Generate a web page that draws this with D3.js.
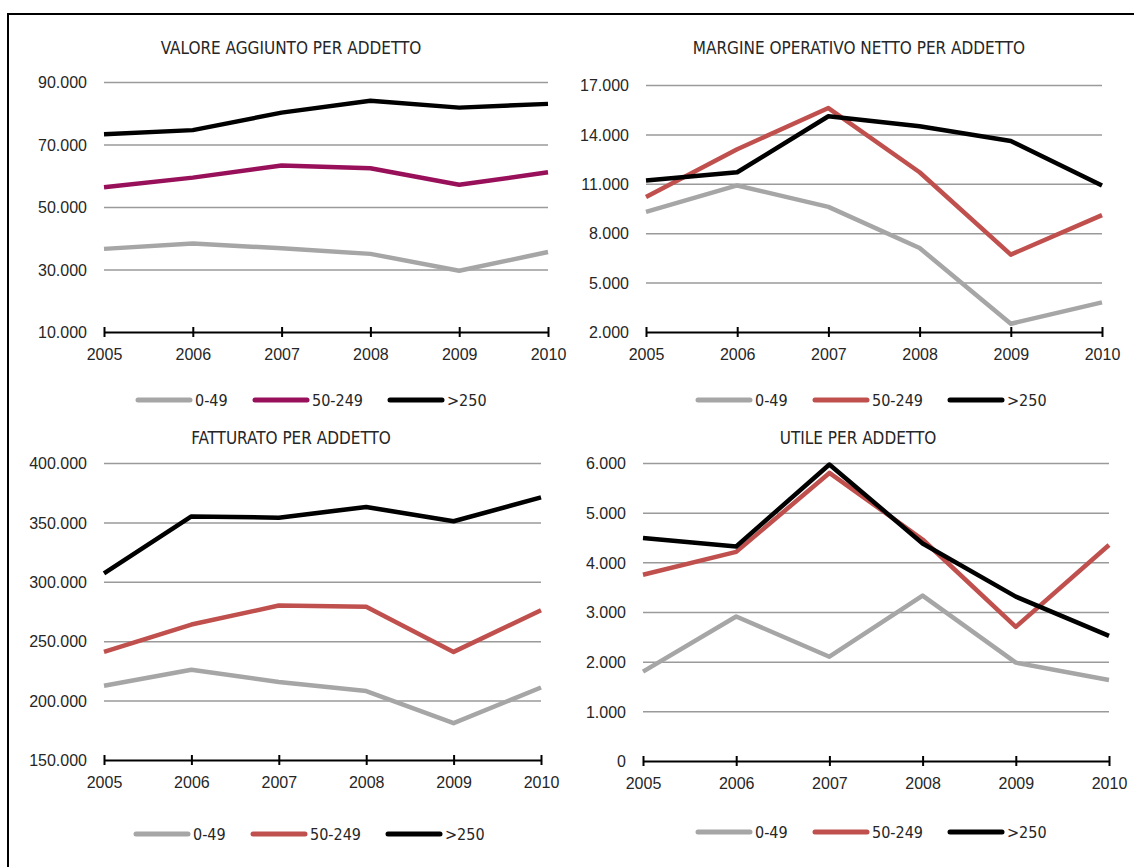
<!DOCTYPE html>
<meta charset="utf-8">
<style>

body {
  margin: 0;
  background: #fff;
}

svg {
  font-family: "Liberation Sans Narrow", "DejaVu Sans Condensed", sans-serif;
}

.title {
  font-size: 17px;
  fill: #262626;
}

.axis text {
  font-size: 16px;
  fill: #262626;
}

.grid line {
  stroke: #9a9a9a;
  stroke-width: 1.5;
}

.grid path {
  display: none;
}

.xaxis path,
.xaxis line {
  stroke: #000;
  stroke-width: 2;
}

.series {
  fill: none;
  stroke-width: 4.5;
  stroke-linejoin: round;
}

.legend line {
  stroke-width: 5;
  stroke-linecap: round;
}

.legend text {
  font-size: 16px;
  fill: #262626;
}

</style>
<body>
<svg width="1134" height="867"></svg>
</body>

<script src="https://d3js.org/d3.v7.min.js"></script>
<script>

var years = [2005, 2006, 2007, 2008, 2009, 2010];
var classes = ["0-49", "50-249", ">250"];

// valore aggiunto per addetto
var va_small = [36600, 38300, 36800, 35000, 29600, 35600];
var va_mid   = [56300, 59400, 63300, 62400, 57100, 61100];
var va_large = [73300, 74600, 80200, 84000, 81800, 83000];
var va_ticks = [10000, 30000, 50000, 70000, 90000];

// margine operativo netto per addetto
var mon_small = [9300, 10900, 9600, 7100, 2500, 3800];
var mon_mid   = [10200, 13100, 15600, 11700, 6700, 9100];
var mon_large = [11200, 11700, 15100, 14500, 13600, 10900];
var mon_ticks = [2000, 5000, 8000, 11000, 14000, 17000];

// fatturato per addetto
var fat_small = [212500, 226000, 215700, 208000, 181000, 211000];
var fat_mid   = [241000, 264000, 280000, 279000, 241000, 276000];
var fat_large = [307000, 355000, 354000, 363000, 351000, 371000];
var fat_ticks = [150000, 200000, 250000, 300000, 350000, 400000];

// utile per addetto
var ut_small = [1800, 2910, 2100, 3330, 1980, 1630];
var ut_mid   = [3750, 4210, 5800, 4460, 2700, 4350];
var ut_large = [4490, 4320, 5970, 4380, 3310, 2520];
var ut_ticks = [0, 1000, 2000, 3000, 4000, 5000, 6000];

var it = d3.formatLocale({decimal: ",", thousands: ".", grouping: [3], currency: ["€", ""]});
var fmt = it.format(",d");

var svg = d3.select("svg");

// cornice
svg.append("path")
    .attr("d", "M8,880V14H1140")
    .attr("fill", "none")
    .attr("stroke", "#000")
    .attr("stroke-width", 2);

var panels = [
  {title: "VALORE AGGIUNTO PER ADDETTO", series: [va_small, va_mid, va_large], ticks: va_ticks,
   colors: ["#a6a6a6", "#99105a", "#000"], x0: 104, x1: 548, y0: 332, y1: 82, cx: 291, ty: 54,
   ly: 400, lx: 138},
  {title: "MARGINE OPERATIVO NETTO PER ADDETTO", series: [mon_small, mon_mid, mon_large], ticks: mon_ticks,
   colors: ["#a6a6a6", "#c0504d", "#000"], x0: 646, x1: 1102, y0: 332, y1: 85, cx: 859, ty: 54,
   ly: 400, lx: 698},
  {title: "FATTURATO PER ADDETTO", series: [fat_small, fat_mid, fat_large], ticks: fat_ticks,
   colors: ["#a6a6a6", "#c0504d", "#000"], x0: 104, x1: 541, y0: 760, y1: 463, cx: 291, ty: 444,
   ly: 834, lx: 136},
  {title: "UTILE PER ADDETTO", series: [ut_small, ut_mid, ut_large], ticks: ut_ticks,
   colors: ["#a6a6a6", "#c0504d", "#000"], x0: 643, x1: 1109, y0: 761, y1: 463, cx: 858, ty: 444,
   ly: 832, lx: 698}
];

var legendOffsets = [0, 117, 252];

panels.forEach(function(p) {
  var x = d3.scalePoint()
      .domain(years)
      .range([p.x0, p.x1]);

  var y = d3.scaleLinear()
      .domain(d3.extent(p.ticks))
      .range([p.y0, p.y1]);

  var g = svg.append("g");

  g.append("text")
      .attr("class", "title")
      .attr("x", p.cx)
      .attr("y", p.ty)
      .attr("text-anchor", "middle")
      .text(p.title);

  var grid = g.append("g")
      .attr("class", "grid axis")
      .attr("transform", "translate(" + p.x0 + ",0)")
      .call(d3.axisLeft(y)
          .tickValues(p.ticks)
          .tickFormat(fmt)
          .tickSize(-(p.x1 - p.x0))
          .tickPadding(17));

  grid.selectAll(".tick text").attr("dy", "0.36em");
  grid.selectAll(".tick").filter(function(d) { return d === p.ticks[0]; })
      .select("line").remove();

  var xa = g.append("g")
      .attr("class", "xaxis axis")
      .attr("transform", "translate(0," + p.y0 + ")")
      .call(d3.axisBottom(x).tickSizeInner(5).tickSizeOuter(0).tickPadding(12));

  xa.selectAll(".tick line").attr("y1", -5).attr("y2", 5);
  xa.selectAll(".tick text").attr("y", 17);

  var line = d3.line()
      .x(function(d, i) { return x(years[i]); })
      .y(function(d) { return y(d); });

  g.selectAll(".series")
      .data(p.series)
    .enter().append("path")
      .attr("class", "series")
      .attr("stroke", function(d, i) { return p.colors[i]; })
      .attr("d", line);

  var lg = g.append("g")
      .attr("class", "legend")
      .attr("transform", "translate(" + p.lx + "," + p.ly + ")");

  var item = lg.selectAll("g")
      .data(classes)
    .enter().append("g")
      .attr("transform", function(d, i) { return "translate(" + legendOffsets[i] + ",0)"; });

  item.append("line")
      .attr("x1", 0)
      .attr("x2", 52)
      .attr("stroke", function(d, i) { return p.colors[i]; });

  item.append("text")
      .attr("x", 57)
      .attr("dy", "0.36em")
      .text(function(d) { return d; });
});

</script>
